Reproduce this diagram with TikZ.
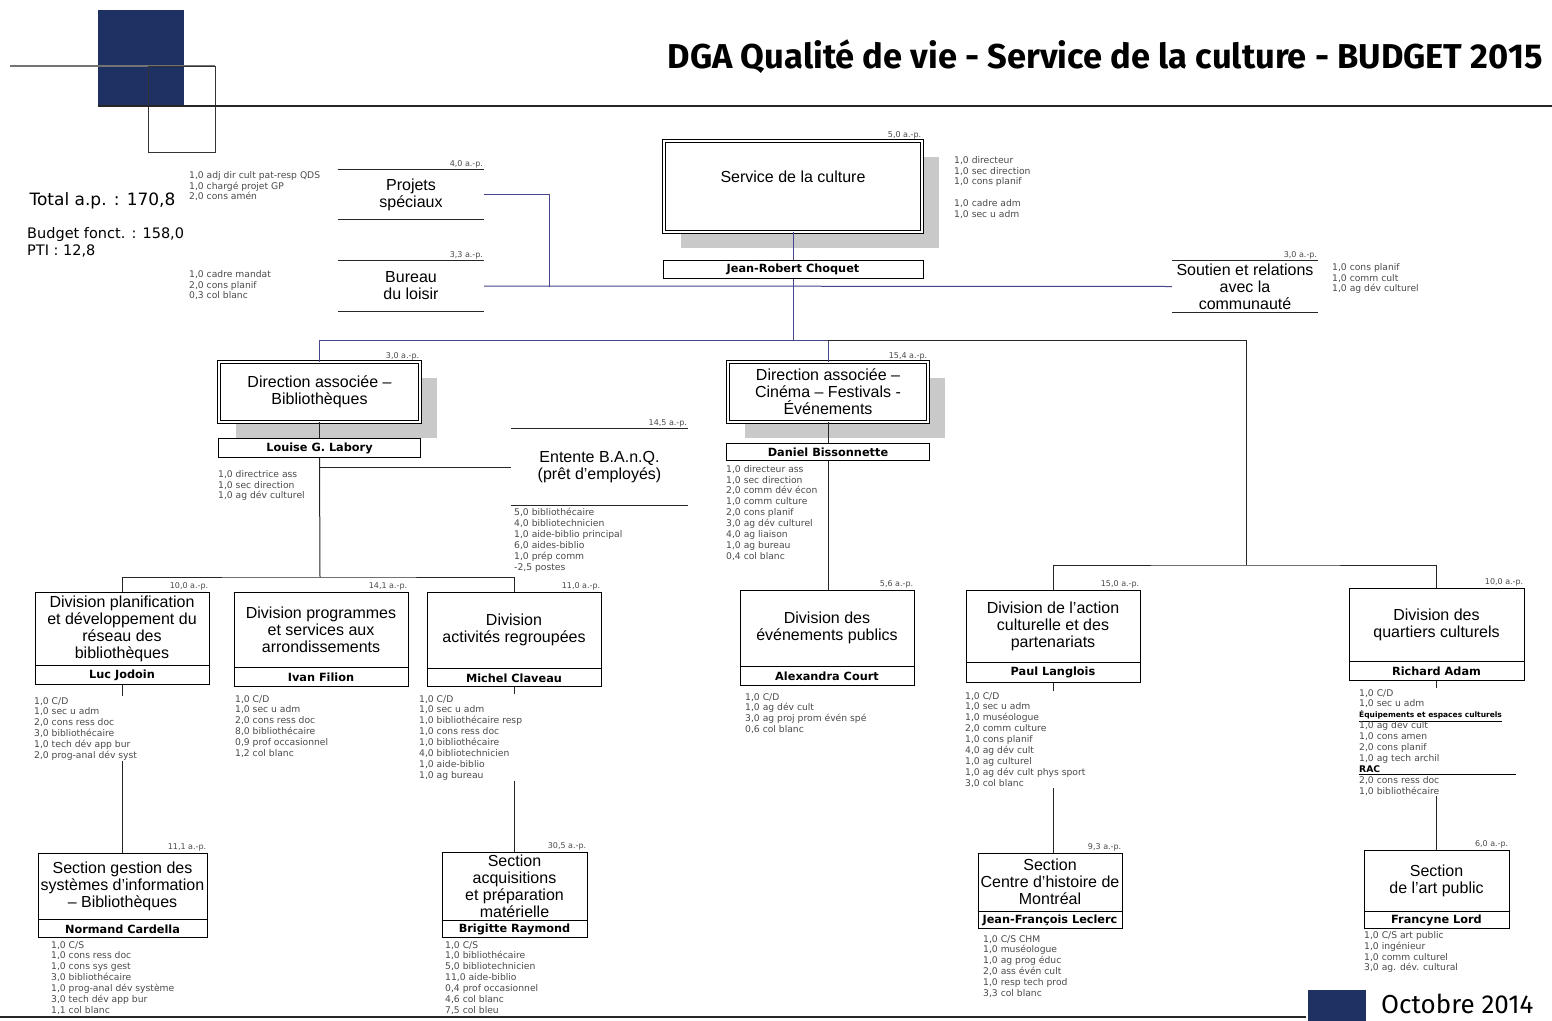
\documentclass[tikz,border=0pt]{standalone}
\usepackage{fontspec}
\setmainfont{Liberation Sans}
\newfontfamily\dejavu{DejaVu Sans}
\newfontfamily\fira{Fira Sans}
\usepackage{tikz}
\usetikzlibrary{positioning,shadows}

\definecolor{logonavy}{HTML}{1F3062}
\definecolor{linkblue}{HTML}{46468C}
\definecolor{staffgray}{HTML}{4A4A4A}
\definecolor{shadowgray}{HTML}{C9C9C9}

\newcommand\culbox{\fontsize{16}{17}\selectfont}
\newcommand\culname{\dejavu\bfseries\fontsize{11.3}{13}\selectfont}
\newcommand\culstaff{\dejavu\fontsize{9.2}{10.9}\selectfont}
\newcommand\culap{\dejavu\fontsize{8}{9}\selectfont}

\begin{document}
\begin{tikzpicture}[x=1pt,y=-1pt,
    box/.style={draw,line width=.8pt,align=center,font=\culbox,inner sep=0pt},
    head box/.style={box,fill=white,double,double distance=1.6pt,
      drop shadow={shadow xshift=17pt,shadow yshift=-16pt,fill=shadowgray,opacity=1}},
    open box/.style={align=center,font=\culbox,inner sep=0pt},
    name box/.style={draw,line width=.8pt,font=\culname,inner sep=0pt},
    ap/.style={font=\culap,text=staffgray,anchor=south east,inner sep=1pt},
    staff/.style={anchor=north west,align=left,font=\culstaff,text=staffgray,fill=white,inner sep=1pt},
    link/.style={draw=black!85,line width=1pt},
    top link/.style={draw=linkblue,line width=1pt}]

  \useasboundingbox (0,0) rectangle (1552,1020);
  \fill[white] (0,0) rectangle (1552,1020);

  \fill[logonavy] (98,10) rectangle (184,107);
  \draw[black!55,line width=1.2pt] (10,66) -- (215,66);
  \draw[black!80,line width=.6pt] (148,66) rectangle (215,152);
  \draw[black!85,line width=2pt] (98,106) -- (1552,106);
  \node[anchor=east,font=\fira\bfseries\fontsize{34.5}{38}\selectfont] (ttl) at (1546,57)
    {DGA Qualité de vie - Service de la culture - BUDGET 2015};
  \draw[black!85,line width=2pt] (0,1017) -- (1306,1017);
  \fill[logonavy] (1308,990) rectangle (1366,1022);
  \node[anchor=base west,inner sep=0pt,font=\fira\fontsize{26}{30}\selectfont] (oct) at (1381,1013) {Octobre 2014};

  \node[anchor=west,font=\dejavu\fontsize{17}{20}\selectfont] (tot) at (26,201) {Total a.p. : 170,8};
  \node[anchor=north west,align=left,inner sep=0pt,font=\dejavu\fontsize{14.5}{17}\selectfont] (bud) at (27,227)
    {Budget fonct. : 158,0\\PTI : 12,8};

  \node[head box,minimum width=258pt,minimum height=91pt,text depth=19pt,label={[ap]north east:5,0 a.-p.}] (svc) at (793,186.5) {Service de la culture};
  \node[name box,minimum width=260pt,minimum height=18pt,below=28pt of svc] (jrc) {Jean-Robert Choquet};
  \node[open box,minimum width=146pt,minimum height=49pt,label={[ap]north east:4,0 a.-p.}] (ps) at (411,194.5) {Projets\\spéciaux};
  \node[open box,minimum width=146pt,minimum height=50pt,label={[ap]north east:3,3 a.-p.}] (bl) at (411,286) {Bureau\\du loisir};
  \node[open box,minimum width=146pt,minimum height=51pt,label={[ap]north east:3,0 a.-p.}] (sr) at (1245,286.5) {Soutien et relations\\avec la\\communauté};

  \node[head box,minimum width=201pt,minimum height=60pt,label={[ap]north east:3,0 a.-p.}] (dab) at (319.5,392) {Direction associée –\\Bibliothèques};
  \node[name box,minimum width=202pt,minimum height=19pt,below=16pt of dab] (lgl) {Louise G. Labory};
  \node[open box,minimum width=177pt,minimum height=76pt,label={[ap]north east:14,5 a.-p.}] (bq) at (599.5,467) {Entente B.A.n.Q.\\(prêt d'employés)};
  \node[head box,minimum width=200pt,minimum height=60pt,label={[ap]north east:15,4 a.-p.}] (dac) at (828,392) {Direction associée –\\Cinéma – Festivals -\\Événements};
  \node[name box,minimum width=203pt,minimum height=17pt,below=21pt of dac] (dbs) {Daniel Bissonnette};

  \node[box,minimum width=174pt,minimum height=73pt,label={[ap]north east:10,0 a.-p.}] (dp) at (122,628.5) {Division planification\\et développement du\\réseau des\\bibliothèques};
  \node[name box,minimum width=174pt,minimum height=19pt,below=0pt of dp] (lj) {Luc Jodoin};
  \node[box,minimum width=174pt,minimum height=75pt,label={[ap]north east:14,1 a.-p.}] (dpr) at (321,629.5) {Division programmes\\et services aux\\arrondissements};
  \node[name box,minimum width=174pt,minimum height=19pt,below=0pt of dpr] (ivf) {Ivan Filion};
  \node[box,minimum width=174pt,minimum height=76pt,label={[ap]north east:11,0 a.-p.}] (dr) at (514,630) {Division\\activités regroupées};
  \node[name box,minimum width=174pt,minimum height=18pt,below=0pt of dr] (mc) {Michel Claveau};
  \node[box,minimum width=174pt,minimum height=76pt,label={[ap]north east:5,6 a.-p.}] (de) at (827,628) {Division des\\événements publics};
  \node[name box,minimum width=174pt,minimum height=19pt,below=0pt of de] (ac) {Alexandra Court};
  \node[box,minimum width=174pt,minimum height=72pt,label={[ap]north east:15,0 a.-p.}] (da) at (1053,626) {Division de l'action\\culturelle et des\\partenariats};
  \node[name box,minimum width=174pt,minimum height=20pt,below=0pt of da] (pl) {Paul Langlois};
  \node[box,minimum width=175pt,minimum height=73pt,label={[ap]north east:10,0 a.-p.}] (dq) at (1436.5,624.5) {Division des\\quartiers culturels};
  \node[name box,minimum width=175pt,minimum height=19pt,below=0pt of dq] (ra) {Richard Adam};

  \node[box,minimum width=169pt,minimum height=66pt,label={[ap]north east:11,1 a.-p.}] (sg) at (122.5,886) {Section gestion des\\systèmes d'information\\– Bibliothèques};
  \node[name box,minimum width=169pt,minimum height=18pt,below=0pt of sg] (nc) {Normand Cardella};
  \node[box,minimum width=145pt,minimum height=68pt,label={[ap]north east:30,5 a.-p.}] (sa) at (514.5,886) {Section\\acquisitions\\et préparation\\matérielle};
  \node[name box,minimum width=145pt,minimum height=17pt,below=0pt of sa] (br) {Brigitte Raymond};
  \node[box,minimum width=144pt,minimum height=58pt,label={[ap]north east:9,3 a.-p.}] (sc) at (1050,882) {Section\\Centre d'histoire de\\Montréal};
  \node[name box,minimum width=144pt,minimum height=17pt,below=0pt of sc] (jfl) {Jean-François Leclerc};
  \node[box,minimum width=145pt,minimum height=61pt,label={[ap]north east:6,0 a.-p.}] (sap) at (1436.5,880.5) {Section\\de l'art public};
  \node[name box,minimum width=145pt,minimum height=17pt,below=0pt of sap] (fl) {Francyne Lord};

  \foreach \n in {ps,bl,sr,bq}
    \draw[link] (\n.north west) -- (\n.north east) (\n.south west) -- (\n.south east);

  \coordinate (tbar) at (1246,340);
  \coordinate (rbar) at (1246,565);
  \coordinate (lbar) at (320,577);
  \coordinate (pj) at (549,287);

  \draw[top link] (svc) -- (jrc);
  \draw[top link] (jrc.south) -- (jrc.south |- tbar);
  \draw[top link] (dab.north) |- (dac.north |- tbar) -- (dac.north);
  \draw[link] (dac.north |- tbar) -| (rbar);
  \draw[top link] (ps.east) -| (pj);
  \draw[top link] (bl.east) -- (sr.west);
  \draw[link] (da.north) |- (rbar) -| (dq.north);
  \draw[link] (dab) -- (lgl);
  \draw[link] (dac) -- (dbs);
  \draw[link] (lgl.south) -- (lbar);
  \draw[link] (dp.north) |- (lbar) -| (dr.north);
  \draw[link] (bq.west) -- (bq.west -| lgl.south);
  \draw[link] (dbs.south) -- (dbs.south |- de.north);
  \draw[link] (lj.south) -- (lj.south |- sg.north);
  \draw[link] (mc.south) -- (mc.south |- sa.north);
  \draw[link] (pl.south) -- (pl.south |- sc.north);
  \draw[link] (ra.south) -- (ra.south |- sap.north);

  \node[staff] (sps) at (188,170) {1,0 adj dir cult pat-resp QDS\\1,0 chargé projet GP\\2,0 cons amén};
  \node[staff] (sbl) at (188,269) {1,0 cadre mandat\\2,0 cons planif\\0,3 col blanc};
  \node[staff] (ssvc) at (953,155) {1,0 directeur\\1,0 sec direction\\1,0 cons planif\\[11pt]1,0 cadre adm\\1,0 sec u adm};
  \node[staff] (ssr) at (1331,262) {1,0 cons planif\\1,0 comm cult\\1,0 ag dév culturel};
  \node[staff] (sdab) at (217,469) {1,0 directrice ass\\1,0 sec direction\\1,0 ag dév culturel};
  \node[staff] (sbq) at (513,507) {5,0 bibliothécaire\\4,0 bibliotechnicien\\1,0 aide-biblio principal\\6,0 aides-biblio\\1,0 prép comm\\-2,5 postes};
  \node[staff] (sdac) at (725,464) {1,0 directeur ass\\1,0 sec direction\\2,0 comm dév écon\\1,0 comm culture\\2,0 cons planif\\3,0 ag dév culturel\\4,0 ag liaison\\1,0 ag bureau\\0,4 col blanc};
  \node[staff] (sdp) at (33,696) {1,0 C/D\\1,0 sec u adm\\2,0 cons ress doc\\3,0 bibliothécaire\\1,0 tech dév app bur\\2,0 prog-anal dév syst};
  \node[staff] (sdpr) at (234,694) {1,0 C/D\\1,0 sec u adm\\2,0 cons ress doc\\8,0 bibliothécaire\\0,9 prof occasionnel\\1,2 col blanc};
  \node[staff] (sdr) at (418,694) {1,0 C/D\\1,0 sec u adm\\1,0 bibliothécaire resp\\1,0 cons ress doc\\1,0 bibliothécaire\\4,0 bibliotechnicien\\1,0 aide-biblio\\1,0 ag bureau};
  \node[staff] (sde) at (744,692) {1,0 C/D\\1,0 ag dév cult\\3,0 ag proj prom évén spé\\0,6 col blanc};
  \node[staff] (sda) at (964,691) {1,0 C/D\\1,0 sec u adm\\1,0 muséologue\\2,0 comm culture\\1,0 cons planif\\4,0 ag dév cult\\1,0 ag culturel\\1,0 ag dév cult phys sport\\3,0 col blanc};
  \node[staff] (sdq) at (1358,688) {1,0 C/D\\1,0 sec u adm\\{\color{black}\fontsize{7.5}{10.9}\selectfont\bfseries\underline{Équipements et espaces culturels}}\\1,0 ag dev cult\\1,0 cons amen\\2,0 cons planif\\1,0 ag tech archil\\{\color{black}\underline{\makebox[157pt][l]{\bfseries RAC}}}\\2,0 cons ress doc\\1,0 bibliothécaire};
  \node[staff] (ssg) at (50,940) {1,0 C/S\\1,0 cons ress doc\\1,0 cons sys gest\\3,0 bibliothécaire\\1,0 prog-anal dév système\\3,0 tech dév app bur\\1,1 col blanc};
  \node[staff] (ssa) at (444,940) {1,0 C/S\\1,0 bibliothécaire\\5,0 bibliotechnicien\\11,0 aide-biblio\\0,4 prof occasionnel\\4,6 col blanc\\7,5 col bleu};
  \node[staff] (ssc) at (982,934) {1,0 C/S CHM\\1,0 muséologue\\1,0 ag prog éduc\\2,0 ass évén cult\\1,0 resp tech prod\\3,3 col blanc};
  \node[staff] (ssap) at (1363,930) {1,0 C/S art public\\1,0 ingénieur\\1,0 comm culturel\\3,0 ag. dév. cultural};
\end{tikzpicture}
\end{document}
